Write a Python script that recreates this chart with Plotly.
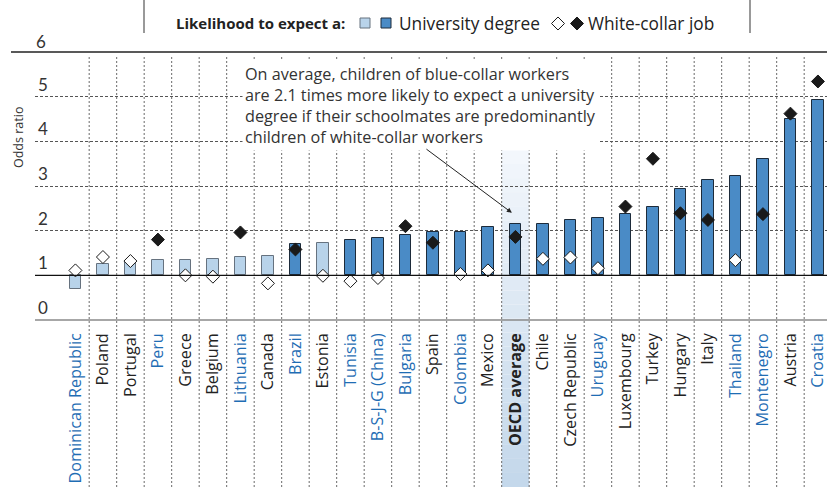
"""Odds ratio chart: expecting a university degree / white-collar job."""

import plotly.graph_objects as go

# ---- data -----------------------------------------------------------------
countries = [
    "Dominican Republic", "Poland", "Portugal", "Peru", "Greece", "Belgium",
    "Lithuania", "Canada", "Brazil", "Estonia", "Tunisia", "B-S-J-G (China)",
    "Bulgaria", "Spain", "Colombia", "Mexico", "OECD average", "Chile",
    "Czech Republic", "Uruguay", "Luxembourg", "Turkey", "Hungary", "Italy",
    "Thailand", "Montenegro", "Austria", "Croatia",
]
partners = [
    "Dominican Republic", "Peru", "Lithuania", "Brazil", "Tunisia",
    "B-S-J-G (China)", "Bulgaria", "Colombia", "Uruguay", "Thailand",
    "Montenegro", "Croatia",
]
degree = [0.69, 1.26, 1.32, 1.34, 1.35, 1.37, 1.42, 1.44, 1.71, 1.72, 1.79,
          1.83, 1.91, 1.96, 1.98, 2.09, 2.16, 2.16, 2.25, 2.28, 2.37, 2.52,
          2.93, 3.13, 3.23, 3.61, 4.49, 4.92]
degree_sig = [0, 0, 0, 0, 0, 0, 0, 0, 1, 0, 1, 1, 1, 1, 1, 1, 1, 1, 1, 1, 1,
              1, 1, 1, 1, 1, 1, 1]
job = [1.11, 1.41, 1.32, 1.80, 1.00, 0.97, 1.96, 0.82, 1.58, 0.99, 0.87,
       0.94, 2.10, 1.73, 1.03, 1.11, 1.86, 1.37, 1.40, 1.16, 2.54, 3.61,
       2.39, 2.24, 1.34, 2.37, 4.62, 5.34]
job_sig = [0, 0, 0, 1, 0, 0, 1, 0, 1, 0, 0, 0, 1, 1, 0, 0, 1, 0, 0, 0, 1, 1,
           1, 1, 0, 1, 1, 1]
y_ticks = [0, 1, 2, 3, 4, 5]
y_top = 6

# ---- style ------------------------------------------------------------------
FONT = "Open Sans"
TXT = "#222222"
BLUE_TXT = "#1f6db4"
LIGHT, LIGHT_EDGE = "#b8d3ea", "#66727f"
DARK, DARK_EDGE = "#4a8bc6", "#1d2b3a"

W, H = 827, 487
ML, MR, MT, MB = 35, 0, 52, 167
PW, PH = W - ML - MR, H - MT - MB
X_RANGE = [-1.47, 27.33]


def px(x):
    return (x - ML) / PW


def py(y):
    return (H - MB - y) / PH


x = list(range(len(countries)))

ticktext = []
for c in countries:
    if c == "OECD average":
        ticktext.append("<b>OECD average</b>")
    elif c in partners:
        ticktext.append(f'<span style="color:{BLUE_TXT}">{c}</span>')
    else:
        ticktext.append(c)

fig = go.Figure()

# bars start at an odds ratio of 1
fig.add_trace(go.Bar(
    x=x,
    y=[v - 1 for v in degree],
    base=1,
    width=0.41,
    marker=dict(
        color=[DARK if s else LIGHT for s in degree_sig],
        line=dict(color=[DARK_EDGE if s else LIGHT_EDGE for s in degree_sig], width=1),
    ),
    showlegend=False,
))

fig.add_trace(go.Scatter(
    x=x,
    y=job,
    mode="markers",
    marker=dict(
        symbol="diamond",
        size=10,
        color=["#1a1a1a" if s else "white" for s in job_sig],
        line=dict(color="#1a1a1a", width=1),
    ),
    cliponaxis=False,
    showlegend=False,
))

shapes = []

# OECD average highlight (soft vertical gradient)
oecd = countries.index("OECD average")
n_bands = 24
top, bottom = py(150), py(H)
for i in range(n_bands):
    t = i / (n_bands - 1)
    r = int(0xf3 + (0xc4 - 0xf3) * t)
    g = int(0xf7 + (0xd8 - 0xf7) * t)
    b = int(0xfc + (0xeb - 0xfc) * t)
    y0 = top + (bottom - top) * i / n_bands
    y1 = top + (bottom - top) * (i + 1) / n_bands
    shapes.append(dict(
        type="rect", xref="x", yref="paper",
        x0=oecd - 0.5, x1=oecd + 0.5, y0=y1, y1=y0,
        fillcolor=f"rgb({r},{g},{b})", line=dict(width=0), layer="below",
    ))

# vertical dotted separators, running down through the labels
for i in range(len(countries) - 1):
    shapes.append(dict(
        type="line", xref="x", yref="paper",
        x0=i + 0.5, x1=i + 0.5, y0=py(H), y1=py(55),
        line=dict(color="#6a6a6a", width=1, dash="2px,2px"), layer="below",
    ))

# solid reference lines
shapes.append(dict(type="line", xref="paper", yref="paper", x0=px(11), x1=1,
                   y0=1, y1=1, line=dict(color="#222", width=1.3)))
shapes.append(dict(type="line", xref="paper", yref="y", x0=0, x1=1,
                   y0=1, y1=1, line=dict(color="#111", width=1.3)))
shapes.append(dict(type="line", xref="paper", yref="paper", x0=0, x1=1,
                   y0=0, y1=0, line=dict(color="#8a8a8a", width=1.5)))

# legend frame ticks
for lx in (144, 750):
    shapes.append(dict(type="line", xref="paper", yref="paper",
                       x0=px(lx), x1=px(lx), y0=py(0), y1=py(33),
                       line=dict(color="#555", width=1.2)))

# legend squares
for (x0, x1), fill, edge in [((360, 370), LIGHT, LIGHT_EDGE), ((381, 391), DARK, DARK_EDGE)]:
    shapes.append(dict(type="rect", xref="paper", yref="paper",
                       x0=px(x0), x1=px(x1), y0=py(28), y1=py(18),
                       fillcolor=fill, line=dict(color=edge, width=1)))

# legend diamonds
for cx, fill in [(558, "white"), (577, "#1a1a1a")]:
    pts = [(cx, 17), (cx + 6.5, 23.5), (cx, 30), (cx - 6.5, 23.5)]
    path = "M " + " L ".join(f"{px(a):.5f},{py(b):.5f}" for a, b in pts) + " Z"
    shapes.append(dict(type="path", xref="paper", yref="paper", path=path,
                       fillcolor=fill, line=dict(color="#1a1a1a", width=1)))

annotations = [
    dict(text="<b>Likelihood to expect a:</b>", x=px(174), y=py(23),
         xanchor="left", yanchor="middle", font=dict(size=15, color=TXT)),
    dict(text="University degree", x=px(397), y=py(23),
         xanchor="left", yanchor="middle", font=dict(size=17.3, color=TXT)),
    dict(text="White-collar job", x=px(586), y=py(23),
         xanchor="left", yanchor="middle", font=dict(size=17.3, color=TXT)),
    # rotated axis label; it renders ~50px higher than asked, so aim lower
    dict(text="Odds ratio", x=px(18), y=py(138), textangle=-90,
         xanchor="center", yanchor="middle",
         font=dict(size=12.5, color="#333")),
    # label for the top gridline, which sits above the plotting area
    dict(text=str(y_top), x=px(41), y=py(41.5), xanchor="center",
         yanchor="middle", font=dict(family="Lato", size=17, color="#333")),
    dict(text=("On average, children of blue-collar workers<br>"
               "are 2.1 times more likely to expect a university<br>"
               "degree if their schoolmates are predominantly<br>"
               "children of white-collar workers"),
         x=px(242), y=py(60), xanchor="left", yanchor="top", align="left",
         bgcolor="white", borderpad=2, font=dict(size=16.2, color="#333")),
]
for a in annotations:
    a.setdefault("xref", "paper")
    a.setdefault("yref", "paper")
    a.setdefault("showarrow", False)

# arrow pointing at the OECD average bar
annotations.append(dict(
    text="", x=oecd - 0.13, y=2.40, ax=12.71, ay=3.85,
    xref="x", yref="y", axref="x", ayref="y",
    showarrow=True, arrowhead=2, arrowsize=1, arrowwidth=1, arrowcolor="#222",
))

fig.update_layout(
    width=W, height=H,
    margin=dict(l=ML, r=MR, t=MT, b=MB),
    paper_bgcolor="white", plot_bgcolor="white",
    font=dict(family=FONT, size=16, color=TXT),
    bargap=0,
    xaxis=dict(
        range=X_RANGE, tickmode="array", tickvals=x, ticktext=ticktext,
        tickangle=-90, ticks="", showgrid=False, zeroline=False,
        showline=False, ticklabelstandoff=9, automargin=False,
        ticklabeloverflow="allow",
        tickfont=dict(size=16.2, color=TXT),
    ),
    yaxis=dict(
        range=[0, y_top], tickvals=y_ticks + [y_top], ticks="", showline=False,
        zeroline=False, showgrid=True, gridcolor="#555", griddash="3px,2px",
        gridwidth=1, ticklabelposition="inside top", automargin=False,
        tickfont=dict(family="Lato", size=17, color="#333"),
    ),
    shapes=shapes,
    annotations=annotations,
)

# the page's default body margin would push the fixed-size figure off-screen
fig.write_html("out.html", config={"displayModeBar": False},
               post_script="document.body.style.margin='0px';")
